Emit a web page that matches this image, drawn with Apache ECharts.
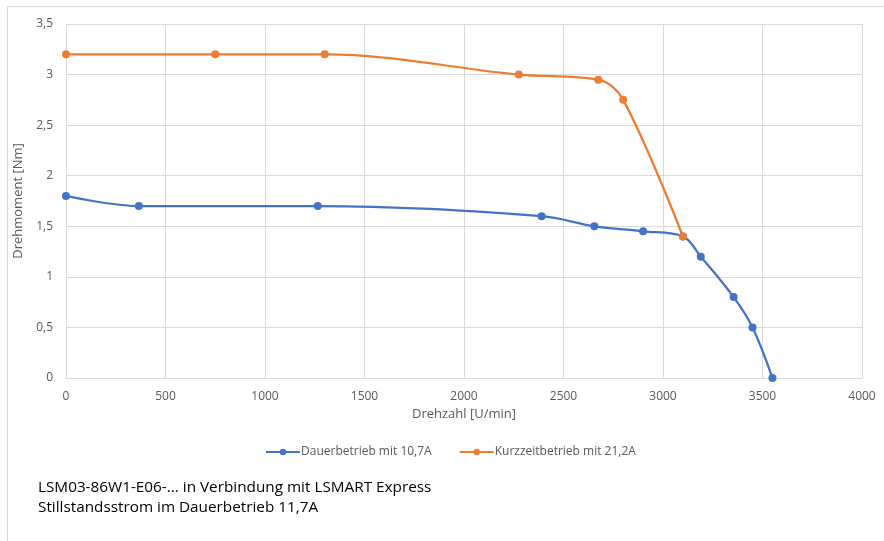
<!DOCTYPE html>
<html>
<head>
<meta charset="utf-8">
<script src="https://cdn.jsdelivr.net/npm/echarts@6/dist/echarts.min.js"></script>
<style>
html,body{margin:0;padding:0;background:#fff;}
#chart{width:884px;height:541px;}
</style>
</head>
<body>
<div id="chart"></div>
<script>
const dauerX = [0, 366, 1265, 2390, 2655, 2900, 3100, 3190, 3355, 3450, 3550];
const dauerY = [1.8, 1.7, 1.7, 1.6, 1.5, 1.45, 1.4, 1.2, 0.8, 0.5, 0];
const kurzX = [0, 750, 1300, 2275, 2675, 2800, 3100];
const kurzY = [3.2, 3.2, 3.2, 3.0, 2.95, 2.75, 1.4];
const seriesNames = ['Dauerbetrieb mit 10,7A', 'Kurzzeitbetrieb mit 21,2A'];
const xAxisName = 'Drehzahl [U/min]';
const yAxisName = 'Drehmoment [Nm]';
const noteLines = ['LSM03-86W1-E06-... in Verbindung mit LSMART Express', 'Stillstandsstrom im Dauerbetrieb 11,7A'];

const FONT = '"Open Sans", "Noto Sans", sans-serif';
const pairs = (xs, ys) => xs.map((x, i) => [x, ys[i]]);
const chart = echarts.init(document.getElementById('chart'));
chart.setOption({
  backgroundColor: '#ffffff',
  animation: false,
  textStyle: { fontFamily: FONT },
  grid: { left: 66, right: 22, top: 24, bottom: 163 },
  legend: {
    top: 441,
    left: 260,
    itemGap: 27,
    itemWidth: 34,
    itemHeight: 8,
    textStyle: { color: '#595959', fontSize: 12, fontFamily: FONT, padding: [0, 0, 0, -4] },
    data: seriesNames
  },
  xAxis: {
    type: 'value', min: 0, max: 4000, interval: 500,
    name: xAxisName, nameLocation: 'middle', nameGap: 30,
    nameTextStyle: { color: '#595959', fontSize: 13 },
    axisLine: { show: true, lineStyle: { color: '#d9d9d9' } },
    axisTick: { show: false },
    axisLabel: { color: '#595959', fontSize: 12, margin: 13, formatter: v => String(v) },
    splitLine: { show: true, lineStyle: { color: '#d9d9d9' } }
  },
  yAxis: {
    type: 'value', min: 0, max: 3.5, interval: 0.5,
    name: yAxisName, nameLocation: 'middle', nameGap: 35, nameRotate: 90,
    nameTextStyle: { color: '#595959', fontSize: 13 },
    axisLine: { show: true, lineStyle: { color: '#d9d9d9' } },
    axisTick: { show: false },
    axisLabel: { color: '#595959', fontSize: 12, margin: 13,
      formatter: v => String(v).replace('.', ',') },
    splitLine: { show: true, lineStyle: { color: '#d9d9d9' } }
  },
  series: [
    {
      name: seriesNames[0], type: 'line', smooth: 0.35,
      data: pairs(dauerX, dauerY),
      symbol: 'circle', symbolSize: 8,
      itemStyle: { color: '#4472c4' },
      lineStyle: { color: '#4472c4', width: 2.25 }
    },
    {
      name: seriesNames[1], type: 'line', smooth: 0.35,
      data: pairs(kurzX, kurzY),
      symbol: 'circle', symbolSize: 8,
      itemStyle: { color: '#ed7d31' },
      lineStyle: { color: '#ed7d31', width: 2.25 }
    }
  ],
  graphic: [
    { type: 'line', shape: { x1: 7, y1: 6.5, x2: 884, y2: 6.5 }, style: { stroke: '#d9d9d9', lineWidth: 1 } },
    { type: 'line', shape: { x1: 7.5, y1: 6, x2: 7.5, y2: 541 }, style: { stroke: '#d9d9d9', lineWidth: 1 } },
    { type: 'text', left: 38, top: 480, style: { text: noteLines[0], fill: '#000000', font: '15.3px ' + FONT } },
    { type: 'text', left: 38, top: 500, style: { text: noteLines[1], fill: '#000000', font: '15.3px ' + FONT } }
  ]
});
</script>
</body>
</html>
